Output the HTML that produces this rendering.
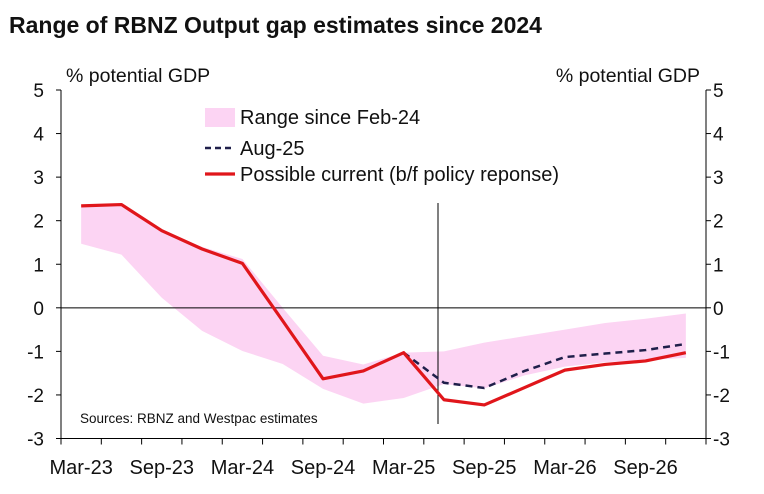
<!DOCTYPE html>
<html><head><meta charset="utf-8"><style>
body{margin:0;background:#fff;width:764px;height:489px;overflow:hidden;font-family:"Liberation Sans",sans-serif}
</style></head><body>
<svg width="764" height="489" font-family="Liberation Sans, sans-serif">
<text x="9" y="33" font-size="23" font-weight="bold" fill="#111">Range of RBNZ Output gap estimates since 2024</text>
<g id="plot"></g>
</svg>
<script>
const categories=["Mar-23","Jun-23","Sep-23","Dec-23","Mar-24","Jun-24","Sep-24","Dec-24","Mar-25","Jun-25","Sep-25","Dec-25","Mar-26","Jun-26","Sep-26","Dec-26"];
const rangeUpper=[2.35,2.38,1.78,1.4,1.12,0.0,-1.1,-1.3,-1.03,-1.0,-0.8,-0.65,-0.5,-0.35,-0.25,-0.13];
const rangeLower=[1.47,1.22,0.23,-0.53,-0.99,-1.29,-1.86,-2.2,-2.07,-1.75,-1.85,-1.55,-1.35,-1.25,-1.2,-1.15];
const aug25=[null,null,null,null,null,null,null,null,-1.03,-1.72,-1.84,-1.45,-1.13,-1.05,-0.97,-0.83];
const current=[2.34,2.37,1.77,1.35,1.02,-0.3,-1.63,-1.45,-1.03,-2.11,-2.23,-1.83,-1.43,-1.3,-1.22,-1.03];
const yTicks=[5,4,3,2,1,0,-1,-2,-3];
const xLabels=["Mar-23","Sep-23","Mar-24","Sep-24","Mar-25","Sep-25","Mar-26","Sep-26"];
const NS="http://www.w3.org/2000/svg";
const L=61,R=706,T=90,B=438.5,step=(R-L)/categories.length;
const x=i=>L+step*(i+0.5);
const y=v=>T+(5-v)*(B-T)/8;
const g=document.getElementById('plot');
function mk(t,a){const e=document.createElementNS(NS,t);for(const k in a)e.setAttribute(k,a[k]);g.appendChild(e);return e;}
let d="";rangeUpper.forEach((v,i)=>d+=(i?"L":"M")+x(i)+" "+y(v));
for(let i=rangeLower.length-1;i>=0;i--)d+="L"+x(i)+" "+y(rangeLower[i]);
let band=mk('path',{d:d+"Z",fill:"#fcd4f3"});


let z=mk('line',{x1:L,x2:R,y1:y(0),y2:y(0),stroke:"#000","stroke-width":1});


let vm=mk('line',{x1:438,x2:438,y1:203,y2:424,stroke:"#000","stroke-width":1});


let pd="";aug25.forEach((v,i)=>{if(v!==null)pd+=(pd?"L":"M")+x(i)+" "+y(v);});
let dl=mk('path',{d:pd,fill:"none",stroke:"#1f1f4a","stroke-width":2.5,"stroke-dasharray":"7 5"});


let pc="";current.forEach((v,i)=>pc+=(i?"L":"M")+x(i)+" "+y(v));
let cl=mk('path',{d:pc,fill:"none",stroke:"#e0161b","stroke-width":3.2,"stroke-linejoin":"round"});


[[L,T,L,B],[R,T,R,B],[L,B,R,B]].forEach((c,i)=>{let a=mk('line',{x1:c[0],y1:c[1],x2:c[2],y2:c[3],stroke:"#000","stroke-width":1});

});
yTicks.forEach(v=>{
 mk('line',{x1:L-5,x2:L,y1:y(v),y2:y(v),stroke:"#000"});
 mk('line',{x1:R,x2:R+5,y1:y(v),y2:y(v),stroke:"#000"});
 let t=mk('text',{x:44,y:y(v)+7,"font-size":19,"text-anchor":"end",fill:"#111"});t.textContent=v;
 
 
 let t2=mk('text',{x:713,y:y(v)+7,"font-size":19,fill:"#111"});t2.textContent=v;
 
 
});
for(let i=0;i<=categories.length;i++)mk('line',{x1:L+step*i,x2:L+step*i,y1:B,y2:B+6,stroke:"#000"});
xLabels.forEach(lab=>{const i=categories.indexOf(lab);
 let t=mk('text',{x:x(i),y:474,"font-size":20,"text-anchor":"middle",fill:"#111"});t.textContent=lab;
 
 });
</script>
<svg width="764" height="489" style="position:absolute;left:0;top:0" font-family="Liberation Sans, sans-serif">
<text x="66" y="82" font-size="19.5" fill="#111">% potential GDP</text>
<text x="700" y="82" font-size="19.5" fill="#111" text-anchor="end">% potential GDP</text>
<rect x="205" y="108" width="30" height="19" fill="#fcd4f3"/>
<text x="240" y="124" font-size="20" fill="#111">Range since Feb-24</text>
<line x1="205" y1="148" x2="235" y2="148" stroke="#1f1f4a" stroke-width="2.5" stroke-dasharray="6 4"/>
<text x="240" y="155" font-size="20" fill="#111">Aug-25</text>
<line x1="205" y1="174" x2="235" y2="174" stroke="#e0161b" stroke-width="3.2"/>
<text x="240" y="181" font-size="20" fill="#111">Possible current (b/f policy reponse)</text>
<text x="80" y="423" font-size="13.5" fill="#111">Sources: RBNZ and Westpac estimates</text>
</svg>
</body></html>
